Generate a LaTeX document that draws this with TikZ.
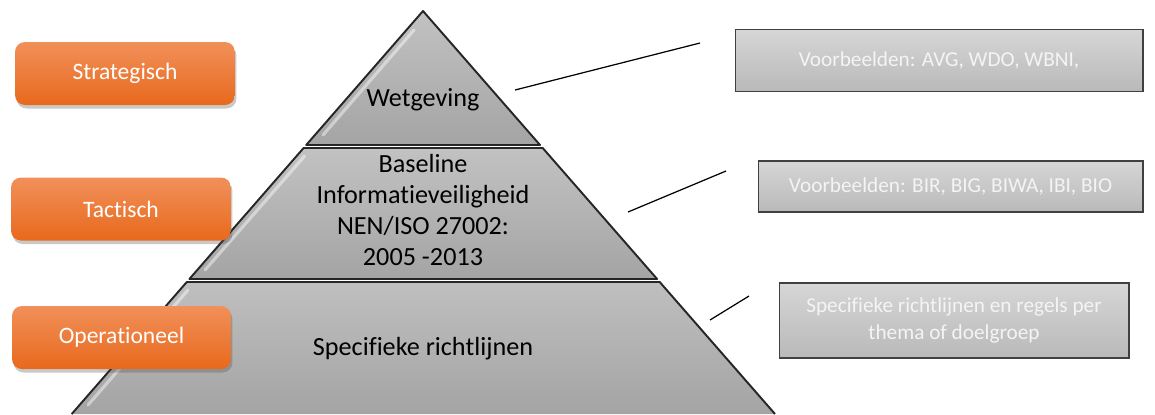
\documentclass[tikz,border=0pt]{standalone}
\usepackage{fontspec}
\setmainfont{Carlito}[RawFeature={-liga;-clig;-dlig}]
\usetikzlibrary{shadows}
\definecolor{orgtop}{HTML}{F1905A}
\definecolor{orgbot}{HTML}{E8691C}
\definecolor{pyrtop}{HTML}{C2C2C2}
\definecolor{pyrbot}{HTML}{A4A4A4}
\definecolor{boxtop}{HTML}{D6D6D6}
\definecolor{boxbot}{HTML}{B9B9B9}
\definecolor{boxtxt}{HTML}{F4F4F4}
\tikzset{
  levelbox/.style={rounded corners=0.2cm, top color=orgtop, bottom color=orgbot,
    draw=none, text=white, font=\fontsize{13.4}{16}\selectfont,
    drop shadow={shadow xshift=0.03cm, shadow yshift=-0.07cm, opacity=0.3, fill=black!70}},
  layer/.style={top color=pyrtop, bottom color=pyrbot, draw=black!85, line width=1.1pt, line join=round},
  gloss/.style={white, opacity=0.45, line width=1.8pt, line cap=round},
  layertext/.style={font=\fontsize{14.9}{17.6}\selectfont, align=center, text=black},
  examplebox/.style={top color=boxtop, bottom color=boxbot, draw=black!75, line width=0.6pt,
    text=boxtxt, font=\fontsize{12.1}{15}\selectfont, align=center},
  link/.style={draw=black, line width=0.7pt}
}
\begin{document}
\begin{tikzpicture}[x=0.02cm, y=-0.02cm]
\useasboundingbox (0,0) rectangle (1155,414);
% pyramid layers
\shade[layer] (423,11) -- (540.0,145) -- (306.2,145) -- cycle;
\shade[layer] (303.6,148) -- (542.7,148) -- (657.1,279) -- (189.4,279) -- cycle;
\shade[top color=pyrtop!90!pyrbot, bottom color=pyrbot, draw=none] (186.8,282) -- (659.7,282) -- (775,414) -- (71.7,414) -- cycle;
\draw[black!85, line width=1.1pt, line join=round] (71.7,414) -- (186.8,282) -- (659.7,282) -- (775,414);
% gloss highlights
\draw[gloss] (414,30) -- (323,135);
\draw[gloss] (304.6,156) -- (205,270);
\draw[gloss] (188,290) -- (88,405);
% layer texts
\node[layertext] (wet) at (423,100) {Wetgeving};
\node[layertext] (base) at (423,210) {Baseline\\Informatieveiligheid\\NEN/ISO 27002:\\2005 -2013};
\node[layertext] (spec) at (423,349) {Specifieke richtlijnen};
% level boxes
\node[levelbox, minimum width=4.4cm, minimum height=1.26cm] (strat) at (125,73.5) {Strategisch};
\node[levelbox, minimum width=4.4cm, minimum height=1.26cm] (tact) at (121,209) {Tactisch};
\node[levelbox, minimum width=4.38cm, minimum height=1.26cm] (oper) at (121.5,337.5) {Operationeel};
% example boxes
\node[examplebox, minimum width=8.16cm, minimum height=1.24cm] (ex1) at (939,60.5) {Voorbeelden: AVG, WDO, WBNI,};
\node[examplebox, minimum width=7.7cm, minimum height=1.02cm] (ex2) at (950.5,186.5) {Voorbeelden: BIR, BIG, BIWA, IBI, BIO};
\node[examplebox, minimum width=7.0cm, minimum height=1.5cm] (ex3) at (954,320.5) {Specifieke richtlijnen en regels per\\thema of doelgroep};
% connector lines
\coordinate (l1a) at (515,90);
\coordinate (l1b) at (700,43);
\coordinate (l2a) at (628,212);
\coordinate (l2b) at (726,171);
\coordinate (l3a) at (710,320);
\coordinate (l3b) at (749,296);
\draw[link] (l1a) -- (l1b);
\draw[link] (l2a) -- (l2b);
\draw[link] (l3a) -- (l3b);
\end{tikzpicture}
\end{document}
